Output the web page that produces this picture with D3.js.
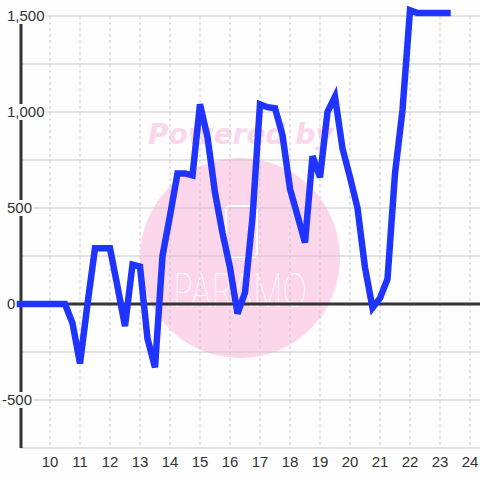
<!DOCTYPE html>
<meta charset="utf-8">
<head>
<script src="https://cdn.jsdelivr.net/npm/d3@7"></script>
<style>
body { margin: 0; background: #fdfefd; }
svg { display: block; font-family: "Liberation Sans", Arial, sans-serif; }
</style>
</head>
<body>
<div id="chart"></div>
<script>

// data
var xValues = [9, 9.25, 9.5, 9.75, 10, 10.25, 10.5, 10.75, 11, 11.25, 11.5, 11.75,
  12, 12.25, 12.5, 12.75, 13, 13.25, 13.5, 13.75, 14, 14.25, 14.5, 14.75,
  15, 15.25, 15.5, 15.75, 16, 16.25, 16.5, 16.75, 17, 17.25, 17.5, 17.75,
  18, 18.25, 18.5, 18.75, 19, 19.25, 19.5, 19.75, 20, 20.25, 20.5, 20.75,
  21, 21.25, 21.5, 21.75, 22, 22.25, 22.5, 22.75, 23, 23.25];
var yValues = [0, 0, 0, 0, 0, 0, 0, -100, -310, 0, 290, 290,
  290, 90, -115, 205, 195, -180, -330, 250, 460, 680, 680, 670,
  1040, 870, 580, 370, 190, -50, 60, 450, 1040, 1025, 1020, 880,
  600, 460, 320, 770, 660, 1000, 1080, 810, 660, 500, 190, -20,
  30, 130, 680, 1010, 1530, 1515, 1515, 1515, 1515, 1515];
var xTicks = [10, 11, 12, 13, 14, 15, 16, 17, 18, 19, 20, 21, 22, 23, 24];
var yTicks = [-500, 0, 500, 1000, 1500];
var yGrid = [-750, -500, -250, 0, 250, 500, 750, 1000, 1250, 1500];

var width = 480, height = 480;

var x = d3.scaleLinear().domain([9, 24 + 1 / 3]).range([20, 480]);
var y = d3.scaleLinear().domain([-750, 1500]).range([448, 16]);

var svg = d3.select("#chart").append("svg")
    .attr("width", width)
    .attr("height", height);

svg.append("rect")
    .attr("width", width).attr("height", height)
    .attr("fill", "#fdfefd");

// watermark
var wm = svg.append("g");
wm.append("circle")
    .attr("cx", 240).attr("cy", 258).attr("r", 100)
    .attr("fill", "#fcd6eb");
wm.append("rect")
    .attr("x", 226).attr("y", 206).attr("width", 31).attr("height", 51)
    .attr("rx", 4)
    .attr("fill", "none").attr("stroke", "#fff").attr("stroke-width", 2);
wm.append("text")
    .attr("x", 173).attr("y", 307)
    .attr("textLength", 134).attr("lengthAdjust", "spacingAndGlyphs")
    .style("font-family", "Inter, sans-serif")
    .style("font-weight", 100)
    .style("font-size", "46px")
    .attr("fill", "#fff")
    .text("PARAMO");
wm.append("text")
    .attr("x", 148).attr("y", 144)
    .style("font-family", "DejaVu Sans")
    .style("font-weight", "bold")
    .style("font-style", "italic")
    .style("font-size", "28px")
    .attr("fill", "#fcd6eb")
    .text("Powered by");

// vertical dashed grid
svg.append("g").selectAll("line")
    .data(xTicks)
    .enter().append("line")
    .attr("x1", function(d) { return x(d); })
    .attr("x2", function(d) { return x(d); })
    .attr("y1", y(1500)).attr("y2", y(-750))
    .attr("stroke", "#c8c8c8")
    .attr("stroke-dasharray", "3,3");

// horizontal grid
svg.append("g").selectAll("line")
    .data(yGrid)
    .enter().append("line")
    .attr("x1", 20).attr("x2", 480)
    .attr("y1", function(d) { return y(d); })
    .attr("y2", function(d) { return y(d); })
    .attr("stroke", "#c8c8c8");

// left axis line
svg.append("line")
    .attr("x1", 21).attr("x2", 21)
    .attr("y1", y(1500)).attr("y2", y(-750))
    .attr("stroke", "#333").attr("stroke-width", 3);

// zero line
svg.append("line")
    .attr("x1", 20).attr("x2", 480)
    .attr("y1", y(0)).attr("y2", y(0))
    .attr("stroke", "#333").attr("stroke-width", 3);

// y labels with white background (plain hyphen for negatives)
var fmt = d3.formatLocale({decimal: ".", thousands: ",", grouping: [3], currency: ["", ""], minus: "-"}).format(",");
var yl = svg.append("g").selectAll("g")
    .data(yTicks)
    .enter().append("g")
    .attr("transform", function(d) { return "translate(" + (d < 0 ? 2 : 7) + "," + y(d) + ")"; });
yl.append("text")
    .attr("dy", "0.36em")
    .style("font-size", "15px")
    .attr("fill", "#333")
    .text(function(d) { return fmt(d); });
yl.each(function() {
  var g = d3.select(this);
  var bb = g.select("text").node().getBBox();
  g.insert("rect", "text")
      .attr("x", bb.x - 1).attr("y", -8)
      .attr("width", bb.width + 2).attr("height", 16)
      .attr("fill", "#fdfefd");
});

// x labels
svg.append("g").selectAll("text")
    .data(xTicks)
    .enter().append("text")
    .attr("x", function(d) { return x(d); })
    .attr("y", 467)
    .attr("text-anchor", "middle")
    .style("font-size", "15px")
    .attr("fill", "#333")
    .text(function(d) { return d; });

// the series
var line = d3.line()
    .x(function(d, i) { return x(xValues[i]); })
    .y(function(d) { return y(d); });

svg.append("path")
    .datum(yValues)
    .attr("d", line)
    .attr("fill", "none")
    .attr("stroke", "#1f35ff")
    .attr("stroke-width", 6.5)
    .attr("stroke-linejoin", "miter")
    .attr("stroke-linecap", "square");

</script>
</body>
